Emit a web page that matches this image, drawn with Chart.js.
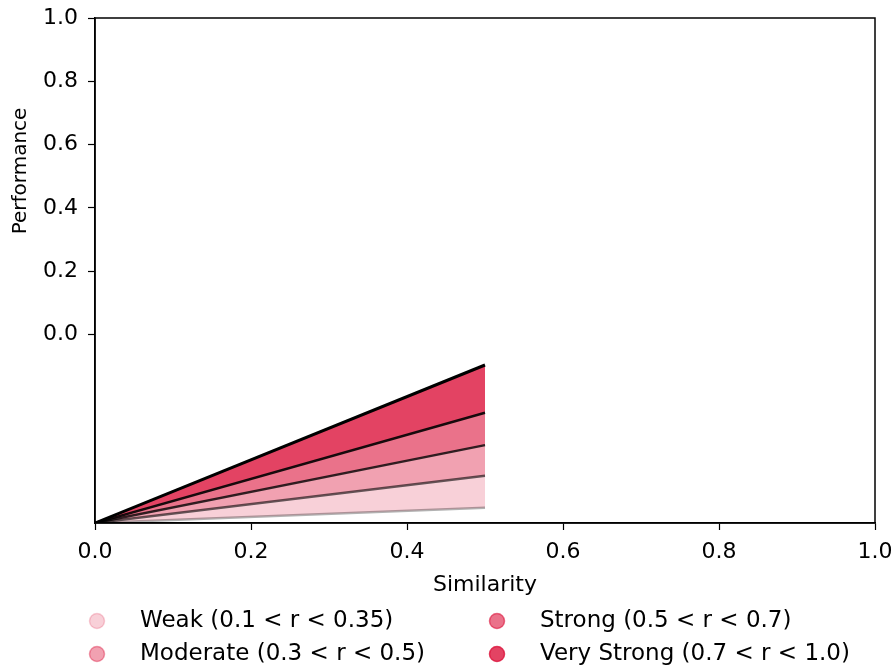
<!DOCTYPE html>
<html>
<head>
<meta charset="utf-8">
<script src="https://cdn.jsdelivr.net/npm/chart.js@4/dist/chart.umd.min.js"></script>
<style>
  html, body { margin: 0; padding: 0; background: #fff; }
  #wrap { width: 895px; height: 666px; position: relative; }
</style>
</head>
<body>
<div id="wrap"><canvas id="chart"></canvas></div>
<script>
// data
const similarity = [0, 0.5];
const rValues = [0.1, 0.3, 0.5, 0.7, 1.0];
const line01 = [-0.595, -0.547];
const line03 = [-0.595, -0.446];
const line05 = [-0.595, -0.349];
const line07 = [-0.595, -0.247];
const line10 = [-0.595, -0.096];
const bandLabels = ['Weak (0.1 < r < 0.35)', 'Moderate (0.3 < r < 0.5)', 'Strong (0.5 < r < 0.7)', 'Very Strong (0.7 < r < 1.0)'];
const xTicks = [0, 0.2, 0.4, 0.6, 0.8, 1.0];
const yTicks = [0, 0.2, 0.4, 0.6, 0.8, 1.0];
const yMin = -0.595;

const bandColors = ['rgba(220,20,60,0.2)', 'rgba(220,20,60,0.4)', 'rgba(220,20,60,0.6)', 'rgba(220,20,60,0.8)'];
const lineColors = ['rgba(0,0,0,0.3)', 'rgba(0,0,0,0.6)', 'rgba(0,0,0,0.8)', 'rgba(0,0,0,0.9)', 'rgba(0,0,0,1)'];
const FONT = 'DejaVu Sans';
const FS = 22;

function pts(ys) {
    return similarity.map((x, i) => ({ x: x, y: ys[i] }));
}

const lines = [line01, line03, line05, line07, line10];
const datasets = lines.map((ys, i) => ({
    label: 'r = ' + rValues[i],
    data: pts(ys),
    borderColor: lineColors[i],
    borderWidth: i === 4 ? 3 : 2.5,
    pointRadius: 0,
    backgroundColor: i > 0 ? bandColors[i - 1] : 'transparent',
    fill: i > 0 ? '-1' : false,
    tension: 0
}));

// frame, y title and the two column legend
const framePlugin = {
    id: 'frame',
    afterDraw(chart) {
        const { ctx, chartArea: a } = chart;
        ctx.save();
        ctx.strokeStyle = '#000';
        ctx.lineWidth = 1.5;
        ctx.strokeRect(a.left, a.top, a.right - a.left, a.bottom - a.top);

        ctx.font = '20px "' + FONT + '"';
        ctx.fillStyle = '#000';
        ctx.textAlign = 'center';
        ctx.textBaseline = 'middle';
        ctx.save();
        ctx.translate(21, 171);
        ctx.rotate(-Math.PI / 2);
        ctx.fillText('Performance', 0, 0);
        ctx.restore();

        const cols = [97, 497];
        const rows = [621, 654];
        ctx.font = '23px "' + FONT + '"';
        ctx.textAlign = 'left';
        bandLabels.forEach((lab, i) => {
            const cx = cols[Math.floor(i / 2)];
            const cy = rows[i % 2];
            ctx.beginPath();
            ctx.arc(cx, cy, 7.5, 0, Math.PI * 2);
            ctx.fillStyle = bandColors[i];
            ctx.fill();
            ctx.strokeStyle = bandColors[i];
            ctx.lineWidth = 1.5;
            ctx.stroke();
            ctx.fillStyle = '#000';
            ctx.fillText(lab, cx + 43, cy);
        });
        ctx.restore();
    }
};

new Chart(document.getElementById('chart'), {
    type: 'line',
    data: { datasets: datasets },
    options: {
        responsive: true,
        maintainAspectRatio: false,
        animation: false,
        layout: { padding: { top: 18, right: 20, bottom: 64, left: 0 } },
        plugins: {
            legend: { display: false },
            tooltip: { enabled: false },
            filler: { drawTime: 'beforeDatasetsDraw' }
        },
        scales: {
            x: {
                type: 'linear',
                min: 0,
                max: 1,
                afterBuildTicks: s => { s.ticks = xTicks.map(v => ({ value: v })); },
                afterFit: s => { s.height = 79; s.paddingLeft = 0; s.paddingRight = 0; },
                grid: { drawOnChartArea: false, drawTicks: true, tickLength: 7, color: '#000', tickWidth: 1.2 },
                border: { display: true, color: '#000', width: 1.5 },
                ticks: {
                    color: '#000',
                    font: { family: FONT, size: FS },
                    padding: 9,
                    maxRotation: 0,
                    callback: v => v.toFixed(1)
                },
                title: { display: true, text: 'Similarity', color: '#000', font: { family: FONT, size: FS }, padding: 4 }
            },
            y: {
                type: 'linear',
                min: yMin,
                max: 1,
                afterBuildTicks: s => { s.ticks = yTicks.map(v => ({ value: v })); },
                afterFit: s => { s.width = 95; s.paddingTop = 0; s.paddingBottom = 0; },
                grid: { drawOnChartArea: false, drawTicks: true, tickLength: 7, color: '#000', tickWidth: 1.2 },
                border: { display: true, color: '#000', width: 1.5 },
                ticks: {
                    color: '#000',
                    font: { family: FONT, size: FS },
                    padding: 10,
                    callback: v => v.toFixed(1)
                },
                title: { display: false }
            }
        }
    },
    plugins: [framePlugin]
});
</script>
</body>
</html>
